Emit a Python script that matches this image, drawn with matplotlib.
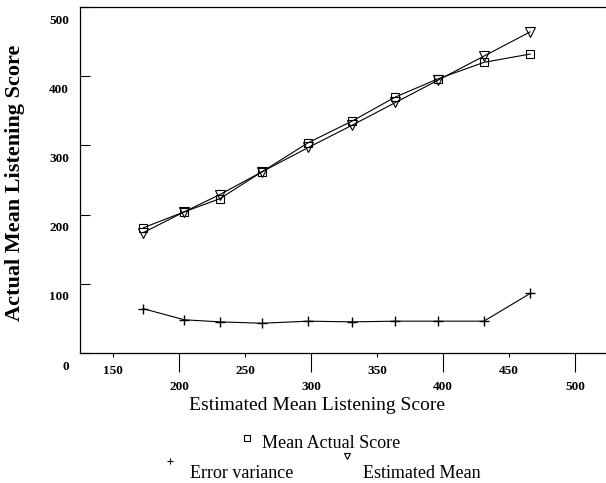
import matplotlib
matplotlib.use("Agg")
import matplotlib.pyplot as plt
from matplotlib.lines import Line2D
from matplotlib.transforms import ScaledTranslation

# values
est_score = [173, 204, 231, 263, 298, 331, 364, 396, 431, 466]
mean_actual = [181, 204, 223, 262, 304, 335, 370, 396, 420, 432]
est_mean = [174, 204, 229, 262, 297, 329, 362, 394, 429, 464]
err_var = [64, 48, 45, 43, 46, 45, 46, 46, 46, 86]

x_major = [200, 300, 400, 500]
x_minor = [150, 250, 350, 450]
y_ticks = [0, 100, 200, 300, 400, 500]

plt.rcParams['font.family'] = ['Liberation Serif', 'DejaVu Serif']

fig = plt.figure(figsize=(6.06, 4.83), dpi=100, facecolor='w')
ax = fig.add_axes([80 / 606, 1 - 353 / 483, 1 - 80 / 606, (353 - 7) / 483])

lw = 0.8
ax.plot(est_score, mean_actual, color='k', lw=lw, marker='s', markersize=6,
        markerfacecolor='none', markeredgewidth=0.8)
ax.plot(est_score, est_mean, color='k', lw=lw, marker='v', markersize=6.5,
        markerfacecolor='none', markeredgewidth=0.8)
ax.plot(est_score, err_var, color='k', lw=lw, marker='+', markersize=7,
        markeredgewidth=1.0)

ax.set_xlim(125, 523.5)
ax.set_ylim(0, 500)
ax.spines['right'].set_visible(False)
for s in ['left', 'bottom', 'top']:
    ax.spines[s].set_linewidth(0.9)

ax.set_xticks(x_major)
ax.set_xticks(x_minor, minor=True)
ax.set_xticklabels([str(v) for v in x_major])
ax.set_xticklabels([str(v) for v in x_minor], minor=True)
ax.tick_params(axis='x', which='major', direction='out', length=14, width=0.8,
               pad=6, labelsize=9.5)
ax.tick_params(axis='x', which='minor', direction='out', length=3, width=0.8,
               pad=6, labelsize=9.5)
ax.set_yticks(y_ticks)
ax.tick_params(axis='y', direction='in', length=7, width=0.8, pad=8,
               labelsize=9.5)

for lab in ax.get_xticklabels() + ax.get_xticklabels(minor=True) + ax.get_yticklabels():
    lab.set_fontweight('bold')
shift = ScaledTranslation(0, -12 / 100, fig.dpi_scale_trans)
for lab in ax.get_yticklabels():
    lab.set_transform(lab.get_transform() + shift)

fig.text(317 / 606, 1 - 405 / 483, 'Estimated Mean Listening Score',
         ha='center', va='center', fontsize=14)
fig.text(15 / 606, 1 - 183 / 483, 'Actual Mean Listening Score',
         ha='center', va='center', rotation=90, fontsize=16, fontweight='bold')

# legend, laid out like the original
leg = [
    ('s', 247, 438, 'Mean Actual Score', 262, 443),
    ('+', 170, 461, 'Error variance', 190, 473),
    ('v', 347, 456, 'Estimated Mean', 363, 473),
]
for mk, mx, my, txt, tx, ty in leg:
    fig.add_artist(Line2D([mx / 606], [1 - my / 483], marker=mk, markersize=5,
                          markerfacecolor='none', markeredgecolor='k',
                          markeredgewidth=0.8, linestyle='none',
                          transform=fig.transFigure))
    fig.text(tx / 606, 1 - ty / 483, txt, ha='left', va='center', fontsize=13)

fig.savefig('out.png', dpi=100)
